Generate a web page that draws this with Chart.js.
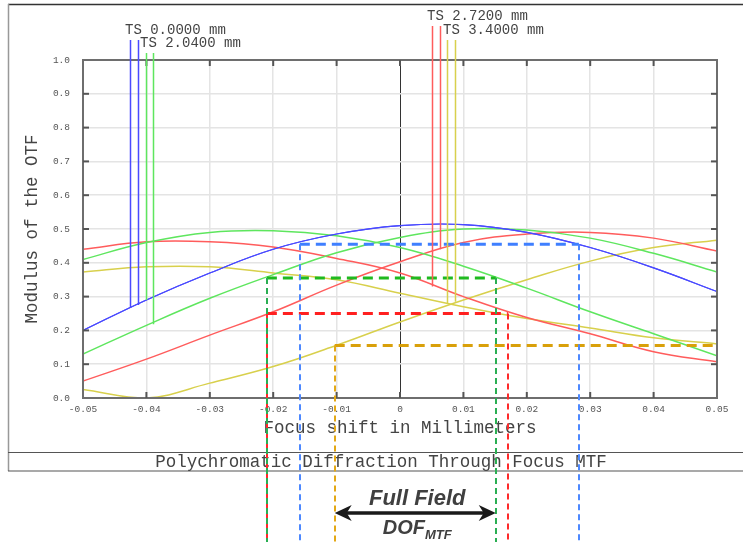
<!DOCTYPE html>
<html>
<head>
<meta charset="utf-8">
<script src="https://cdn.jsdelivr.net/npm/chart.js"></script>
<style>
body{margin:0;background:#fff;}
canvas{display:block;}
</style>
</head>
<body>
<canvas id="mtfChart" width="743" height="542"></canvas>
<script>

/* DATA */

const focusShift = [-0.05,-0.04,-0.03,-0.02,-0.01,0,0.01,0.02,0.03,0.04,0.05];

const mtfField0T = [0.20,0.29,0.37,0.44,0.485,0.51,0.513,0.49,0.445,0.385,0.315];
const mtfField0S = [0.20,0.29,0.37,0.44,0.485,0.51,0.513,0.49,0.445,0.385,0.315];
const mtfField1T = [0.41,0.46,0.49,0.495,0.48,0.445,0.39,0.325,0.255,0.19,0.125];
const mtfField1S = [0.13,0.215,0.295,0.365,0.43,0.475,0.50,0.497,0.473,0.428,0.373];
const mtfField2T = [0.44,0.462,0.462,0.447,0.413,0.37,0.30,0.238,0.19,0.137,0.107];
const mtfField2S = [0.05,0.115,0.186,0.255,0.334,0.403,0.46,0.485,0.49,0.473,0.435];
const mtfField3T = [0.373,0.388,0.388,0.37,0.35,0.31,0.27,0.235,0.207,0.178,0.16];
const mtfField3S = [0.025,0.0,0.044,0.093,0.156,0.225,0.29,0.35,0.405,0.445,0.467];

const fieldLabels = ["TS 0.0000 mm","TS 2.0400 mm","TS 2.7200 mm","TS 3.4000 mm"];

// legend stems: focus shift where each stem sits, and MTF where it stops
const stemShift = [[-0.0426,-0.0414],[-0.0401,-0.0389],[0.005,0.0063],[0.0074,0.0087]];
const stemEnd = [[0.266,0.275],[0.29,0.218],[0.33,0.44],[0.28,0.285]];

// depth of focus: threshold and the focus range where MTF stays above it
const dofThreshold = [0.455,0.355,0.25,0.155];
const dofFrom = [-0.0158,-0.021,-0.021,-0.0103];
const dofTo = [0.0282,0.0151,0.017,0.05];

const xTicks = [-0.05,-0.04,-0.03,-0.02,-0.01,0,0.01,0.02,0.03,0.04,0.05];
const yTicks = [0,0.1,0.2,0.3,0.4,0.5,0.6,0.7,0.8,0.9,1.0];


/* STYLE */

const fieldColors = ["#4a4aff","#5ee65e","#ff5c5c","#d8d04c"];
const fieldWidths = [1.1,1.5,1.5,1.5];
const dofColors = ["#3f7fff","#1fba1f","#ff2020","#d9a00a"];
const dofVColors = ["#4d88ff","#2aae52","#ff2a2a","#e3a816"];

const curves = [mtfField0T,mtfField0S,mtfField1T,mtfField1S,mtfField2T,mtfField2S,mtfField3T,mtfField3S];

const datasets = [];

dofThreshold.forEach((lvl,i)=>{
datasets.push({
data:[{x:dofFrom[i],y:lvl},{x:dofTo[i],y:lvl}],
borderColor:dofColors[i],
borderWidth:3,
borderDash:[10,6],
showLine:true,
pointRadius:0,
tension:0,
order:1
});
});

curves.forEach((arr,k)=>{
const g = Math.floor(k/2);
datasets.push({
data:focusShift.map((x,i)=>({x:x,y:arr[i]})),
borderColor:fieldColors[g],
borderWidth:fieldWidths[g],
showLine:true,
pointRadius:0,
tension:0.4,
order:2
});
});


/* DECORATION */

function seg(ctx,x0,y0,x1,y1){
ctx.beginPath();
ctx.moveTo(x0,y0);
ctx.lineTo(x1,y1);
ctx.stroke();
}

const decor = {
id:"decor",
afterDraw(chart){
const ctx = chart.ctx;
const a = chart.chartArea;
const x = chart.scales.x;
const y = chart.scales.y;
const H = chart.height;
ctx.save();

// outer frame and title band
ctx.strokeStyle = "#333";
ctx.lineWidth = 1.5;
seg(ctx,8,4.5,743,4.5);
ctx.strokeStyle = "#999";
seg(ctx,8.5,4,8.5,471);
ctx.strokeStyle = "#555";
ctx.lineWidth = 1.2;
seg(ctx,8,452.5,743,452.5);
seg(ctx,8,471,743,471);

// titles
ctx.fillStyle = "#444";
ctx.font = "17.5px 'Liberation Mono'";
ctx.textAlign = "center";
ctx.textBaseline = "middle";
ctx.fillText("Focus shift in Millimeters",(a.left+a.right)/2,428);
ctx.fillText("Polychromatic Diffraction Through Focus MTF",381,462);
ctx.save();
ctx.translate(32,(a.top+a.bottom)/2);
ctx.rotate(-Math.PI/2);
ctx.fillText("Modulus of the OTF",0,0);
ctx.restore();

// plot frame
ctx.strokeStyle = "#6e6e6e";
ctx.lineWidth = 2;
ctx.strokeRect(a.left,a.top,a.right-a.left,a.bottom-a.top);

// inner ticks
ctx.strokeStyle = "#555";
ctx.lineWidth = 2;
xTicks.slice(1,-1).forEach(v=>{
const px = x.getPixelForValue(v);
seg(ctx,px,a.bottom,px,a.bottom-6);
seg(ctx,px,a.top,px,a.top+6);
});
yTicks.slice(1,-1).forEach(v=>{
const py = y.getPixelForValue(v);
seg(ctx,a.left,py,a.left+6,py);
seg(ctx,a.right,py,a.right-6,py);
});

// legend labels and stems
const labelPos = [[125,30],[140,43],[427,16],[443,30]];
ctx.font = "14px 'Liberation Mono'";
ctx.textAlign = "left";
ctx.fillStyle = "#444";
fieldLabels.forEach((t,g)=>{
ctx.fillText(t,labelPos[g][0],labelPos[g][1]);
ctx.strokeStyle = fieldColors[g];
ctx.lineWidth = 1.5;
stemShift[g].forEach((s,j)=>{
const px = Math.round(x.getPixelForValue(s))+0.5;
seg(ctx,px,labelPos[g][1]+10,px,y.getPixelForValue(stemEnd[g][j]));
});
});

// vertical DOF markers running down past the plot
ctx.lineWidth = 2;
ctx.setLineDash([6,4]);
for(let i=dofThreshold.length-1;i>=0;i--){
ctx.strokeStyle = dofVColors[i];
[dofFrom[i],dofTo[i]].forEach(v=>{
if(v<=x.min || v>=x.max) return;
const px = Math.round(x.getPixelForValue(v));
seg(ctx,px,y.getPixelForValue(dofThreshold[i]),px,H);
});
}
ctx.setLineDash([]);

// DOF arrow
const ax0 = x.getPixelForValue(dofFrom[3]);
const ax1 = x.getPixelForValue(dofTo[1]);
const ay = 513;
ctx.strokeStyle = "#1a1a1a";
ctx.fillStyle = "#1a1a1a";
ctx.lineWidth = 3.5;
seg(ctx,ax0+8,ay,ax1-8,ay);
[[ax0,1],[ax1,-1]].forEach(([tx,d])=>{
ctx.beginPath();
ctx.moveTo(tx,ay);
ctx.lineTo(tx+d*17,ay-8);
ctx.lineTo(tx+d*12,ay);
ctx.lineTo(tx+d*17,ay+8);
ctx.closePath();
ctx.fill();
});

const cx = (ax0+ax1)/2+2;
ctx.fillStyle = "#404040";
ctx.textBaseline = "alphabetic";
ctx.textAlign = "center";
ctx.font = "italic bold 22px 'Liberation Sans'";
ctx.fillText("Full Field",cx,505);
ctx.textAlign = "left";
ctx.font = "italic bold 20px 'Liberation Sans'";
const w1 = ctx.measureText("DOF").width;
ctx.font = "italic bold 13px 'Liberation Sans'";
const w2 = ctx.measureText("MTF").width;
const sx = cx-(w1+w2)/2;
ctx.font = "italic bold 20px 'Liberation Sans'";
ctx.fillText("DOF",sx,534);
ctx.font = "italic bold 13px 'Liberation Sans'";
ctx.fillText("MTF",sx+w1,539);

ctx.restore();
}
};


/* CHART */

new Chart(
document.getElementById("mtfChart"),
{
type:"scatter",
data:{datasets:datasets},
options:{
responsive:false,
animation:false,
events:[],
layout:{padding:{top:60,right:26,left:0,bottom:0}},
plugins:{legend:{display:false},tooltip:{enabled:false}},
scales:{
x:{
type:"linear",
min:-0.05,
max:0.05,
afterFit(s){s.height=144;},
afterBuildTicks(s){s.ticks=xTicks.map(v=>({value:v}));},
grid:{
color:c=>(c.tick && c.tick.value===0) ? "#333" : "#e4e4e4",
lineWidth:c=>(c.tick && c.tick.value===0) ? 1 : 1.5,
drawTicks:false
},
border:{display:false},
ticks:{
padding:6,
autoSkip:false,
maxRotation:0,
color:"#555",
font:{family:"Liberation Mono",size:9.5},
callback:v=>v===0 ? "0" : v.toFixed(2)
}
},
y:{
min:0,
max:1,
afterFit(s){s.width=83;},
afterBuildTicks(s){s.ticks=yTicks.map(v=>({value:v}));},
grid:{color:"#e4e4e4",lineWidth:1.5,drawTicks:false},
border:{display:false},
ticks:{
padding:13,
color:"#555",
font:{family:"Liberation Mono",size:9.5},
callback:v=>v.toFixed(1)
}
}
}
},
plugins:[decor]
}
);

</script>
</body>
</html>
